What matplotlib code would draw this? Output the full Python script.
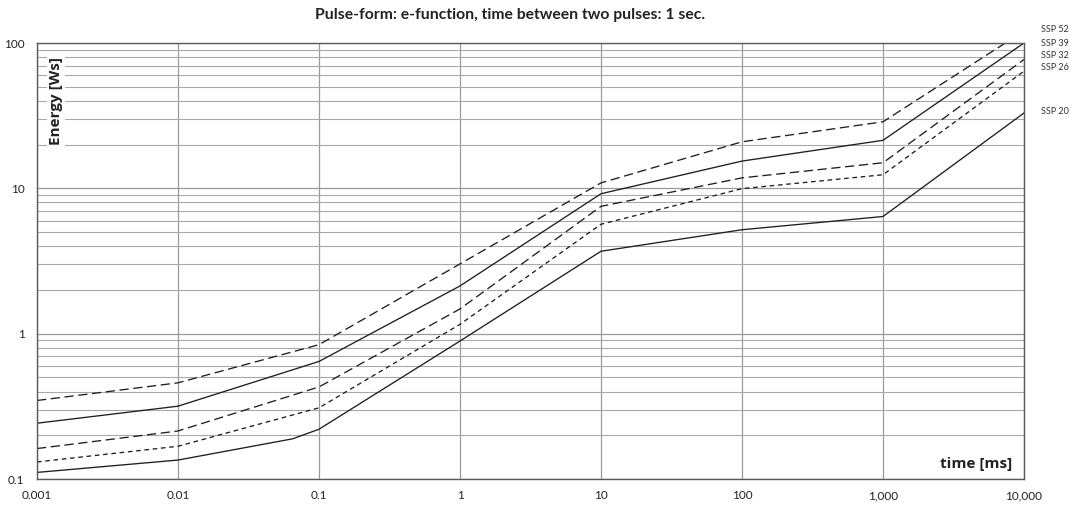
import matplotlib
matplotlib.use('Agg')
import matplotlib.pyplot as plt
from matplotlib.ticker import FixedLocator, NullFormatter, LogLocator

# ---- data ----
time_ms = [0.001, 0.01, 0.1, 1, 10, 100, 1000, 10000]
time_ms_ssp20 = [0.001, 0.01, 0.065, 0.1, 1, 10, 100, 1000, 10000]

ssp52 = [0.347, 0.459, 0.84, 3.02, 10.9, 20.9, 28.7, 121]
ssp39 = [0.242, 0.317, 0.644, 2.13, 9.18, 15.4, 21.4, 100]
ssp32 = [0.162, 0.214, 0.43, 1.48, 7.52, 11.8, 15.0, 77]
ssp26 = [0.131, 0.168, 0.309, 1.16, 5.66, 9.95, 12.4, 64]
ssp20 = [0.111, 0.135, 0.189, 0.22, 0.89, 3.69, 5.19, 6.4, 33]

series_names = ["SSP 52", "SSP 39", "SSP 32", "SSP 26", "SSP 20"]
x_ticks = [0.001, 0.01, 0.1, 1, 10, 100, 1000, 10000]
x_tick_labels = ["0.001", "0.01", "0.1", "1", "10", "100", "1,000", "10,000"]
y_ticks = [0.1, 1, 10, 100]
y_tick_labels = ["0.1", "1", "10", "100"]

title = "Pulse-form: e-function, time between two pulses: 1 sec."

# ---- figure ----
plt.rcParams['font.family'] = ['Lato', 'DejaVu Sans']
W, H = 1073, 505
fig = plt.figure(figsize=(W / 100, H / 100), dpi=100)
ax = fig.add_axes([37 / W, 1 - 479 / H, (1024 - 37) / W, (479 - 43) / H])

ax.set_xscale('log')
ax.set_yscale('log')
ax.set_xlim(0.001, 10000)
ax.set_ylim(0.1, 100)

lc = '#1e1e1e'
lw = 0.95
ax.plot(time_ms, ssp52, color=lc, lw=lw, dashes=(7, 3.5))
ax.plot(time_ms, ssp39, color=lc, lw=lw)
ax.plot(time_ms, ssp32, color=lc, lw=lw, dashes=(7, 3.5))
ax.plot(time_ms, ssp26, color=lc, lw=lw, dashes=(3.5, 2.8))
ax.plot(time_ms_ssp20, ssp20, color=lc, lw=lw)

# ticks
ax.xaxis.set_major_locator(FixedLocator(x_ticks))
ax.xaxis.set_minor_locator(FixedLocator([]))
ax.set_xticks(x_ticks)
ax.set_xticklabels(x_tick_labels)
ax.set_yticks(y_ticks)
ax.set_yticklabels(y_tick_labels)
ax.yaxis.set_minor_locator(LogLocator(base=10, subs=range(2, 10)))
ax.yaxis.set_minor_formatter(NullFormatter())
ax.tick_params(axis='both', which='both', length=0, labelsize=8.5, colors='#222222')
ax.tick_params(axis='x', pad=8)
ax.tick_params(axis='y', pad=9)

# grid
ax.grid(True, which='major', axis='both', color='#9a9a9a', lw=0.9)
ax.grid(True, which='minor', axis='y', color='#a8a8a8', lw=0.8)
ax.set_axisbelow(True)
for s in ax.spines.values():
    s.set_color('#5a5a5a')
    s.set_linewidth(1.0)

# texts
fig.text(510 / W, 1 - 15 / H, title, ha='center', va='center',
         fontsize=11.3, fontweight='bold', color='#222222')
ax.text(56 / W, 1 - 101 / H, "Energy [Ws]", transform=fig.transFigure,
        rotation=90, ha='center', va='center', fontsize=11, fontweight='bold',
        family=['Open Sans', 'DejaVu Sans'],
        color='#222222', bbox=dict(facecolor='white', edgecolor='none', pad=1.5))
ax.text(1012 / W, 1 - 464 / H, "time [ms]", transform=fig.transFigure,
        ha='right', va='center', fontsize=11, fontweight='bold', color='#222222',
        family=['Open Sans', 'DejaVu Sans'],
        bbox=dict(facecolor='white', edgecolor='none', pad=1.5))

label_y_px = [30, 43, 56, 68, 112]
for name, ypx in zip(series_names, label_y_px):
    fig.text(1041 / W, 1 - ypx / H, name, ha='left', va='center',
             fontsize=6.5, color='#333333')

fig.savefig('out.png', dpi=100)
